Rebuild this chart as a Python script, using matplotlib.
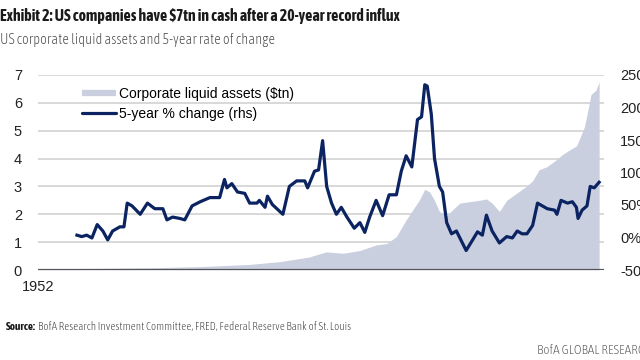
import matplotlib
matplotlib.use("Agg")
import matplotlib.pyplot as plt
from matplotlib.lines import Line2D

plt.rcParams['font.family'] = ['Liberation Sans', 'DejaVu Sans']

# corporate liquid assets ($tn)
asset_years = [1952.0, 1959.6, 1965.8, 1972.0, 1978.1, 1981.8, 1983.6, 1985.5, 1986.7, 1987.6,
               1989.6, 1991.7, 1993.7, 1995.0, 1996.2, 1997.4, 1998.2, 1999.0, 1999.7, 2000.3,
               2000.9, 2001.5, 2002.4, 2003.1, 2004.0, 2005.2, 2006.4, 2007.3, 2008.0, 2008.9,
               2009.8, 2011.0, 2012.2, 2013.0, 2013.8, 2014.7, 2015.9, 2016.7, 2017.5, 2018.4,
               2018.7, 2019.4, 2020.0, 2020.2, 2020.8, 2021.2]
assets = [0.04, 0.06, 0.08, 0.12, 0.2, 0.3, 0.38, 0.47, 0.58, 0.65,
          0.6, 0.7, 0.9, 0.95, 1.2, 1.8, 2.15, 2.5, 2.9, 2.8,
          2.5, 2.1, 1.95, 2.15, 2.4, 2.45, 2.5, 2.55, 2.4, 2.1,
          2.5, 2.75, 3.0, 3.2, 3.6, 3.7, 3.95, 4.15, 4.3, 4.45,
          4.65, 5.15, 6.0, 6.3, 6.45, 6.75]

# 5-year % change (rhs)
chg_years = [1956.8, 1957.4, 1958.0, 1958.65, 1959.3, 1960.0, 1960.6, 1961.2, 1962.1, 1962.6,
             1963.0, 1963.6, 1964.6, 1965.5, 1966.4, 1967.4, 1967.9, 1968.6, 1969.5, 1970.1,
             1971.0, 1972.0, 1973.2, 1974.4, 1975.0, 1975.3, 1975.9, 1976.6, 1977.5, 1978.1,
             1979.0, 1979.3, 1980.0, 1980.3, 1980.9, 1982.2, 1983.0, 1983.9, 1984.9, 1985.25,
             1986.1, 1986.6, 1987.1, 1987.6, 1988.2, 1988.8, 1989.4, 1990.1, 1991.0, 1991.7,
             1992.3, 1992.9, 1993.7, 1994.5, 1995.3, 1996.2, 1996.8, 1997.4, 1998.1, 1998.8,
             1999.3, 1999.7, 2000.0, 2000.5, 2000.9, 2001.5, 2001.9, 2002.4, 2003.0, 2003.6,
             2004.8, 2005.6, 2006.2, 2006.8, 2007.3, 2008.0, 2008.9, 2009.8, 2010.5, 2011.1,
             2011.7, 2012.3, 2013.0, 2013.6, 2014.2, 2014.8, 2015.7, 2016.0, 2016.5, 2017.3,
             2017.9, 2018.4, 2018.6, 2019.1, 2019.7, 2020.1, 2020.6, 2021.2]
change = [3.6, 1.4, 3.6, -0.7, 19.9, 10, -3.7, 10, 16.4, 16.4,
          52.9, 48.6, 35.7, 52.9, 44.3, 44.3, 27.1, 31.4, 29.3, 27.1,
          48.6, 55, 61.4, 61.4, 89.3, 76.4, 82.9, 70, 67.9, 52.9,
          52.9, 57.1, 46.4, 63.6, 50.7, 35.7, 78.6, 87.1, 87.1, 76.4,
          102, 104, 149, 78.6, 52.9, 35.7, 46.4, 31.4, 14.3, 22.9,
          7.9, 31.4, 57.1, 33.6, 65.7, 65.7, 102, 125.7, 108.6, 181.4,
          185.7, 235, 232.9, 190, 121.4, 78.6, 70, 22.9, 5.7, 10,
          -20, -3.7, 8.7, 3.6, 34.4, 10, -8.4, 1.4, -0.7, 10,
          5.7, 5.7, 18.6, 52.9, 48.6, 44.3, 42.1, 35.7, 57.1, 52.9,
          55, 46.4, 29.3, 42.1, 48.6, 78.6, 76.4, 85]

left_ticks = [0, 1, 2, 3, 4, 5, 6, 7]
right_ticks = [-50, 0, 50, 100, 150, 200, 250]
right_labels = ['-50%', '0%', '50%', '100%', '150%', '200%', '250%']

area_col = '#c9cfdf'
line_col = '#0b2461'

fig = plt.figure(figsize=(6.4, 3.6), dpi=100)
ax = fig.add_axes([38/640, 1-270/360, (604-38)/640, 195/360])
ax2 = ax.twinx()

ax.fill_between(asset_years, assets, 0, color=area_col, lw=0, zorder=2)
ax.set_ylim(0, 7)
ax.set_yticks(left_ticks)
ax.set_xlim(1952, 2021.8)
ax.set_xticks([1952])
ax.set_xticklabels(['1952'])
for t in left_ticks[1:]:
    ax.axhline(t, color='#d6d6d6', lw=1.3, zorder=1)
ax.axhline(0, color='#555555', lw=1.6, zorder=3)

ax2.plot(chg_years, change, color=line_col, lw=2.3, zorder=4, solid_joinstyle='round')
ax2.set_ylim(-50, 250)
ax2.set_yticks(right_ticks)
ax2.set_yticklabels(right_labels)

for a in (ax, ax2):
    for s in a.spines.values():
        s.set_visible(False)
    a.tick_params(length=0, labelsize=10.5, colors='#222222')
ax.tick_params(axis='y', pad=11.5)
ax2.tick_params(axis='y', pad=11.5)
ax.tick_params(axis='x', pad=7)

handles = [Line2D([0], [0], color=area_col, lw=4.5, solid_capstyle='butt'),
           Line2D([0], [0], color=line_col, lw=2.3, solid_capstyle='round')]
ax.legend(handles, ['Corporate liquid assets ($tn)', '5-year % change (rhs)'],
          loc='upper left', bbox_to_anchor=(0.078, 0.94), frameon=False,
          fontsize=10, handlelength=2.45, handletextpad=0.2,
          labelspacing=0.45, borderaxespad=0, borderpad=0)

cond = ['Asap Condensed', 'DejaVu Sans']
fig.text(0.0, 0.955, 'Exhibit 2: US companies have $7tn in cash after a 20-year record influx',
         fontsize=11.3, fontweight='bold', family=cond, color='#1a1a1a', va='center')
fig.text(0.0, 0.889, 'US corporate liquid assets and 5-year rate of change',
         fontsize=10.5, fontweight='light', family=cond, color='#444444', va='center')
src = fig.text(0.009, 0.092, 'Source:', fontsize=8, fontweight='bold', family=cond,
               color='#1a1a1a', va='center')
fig.canvas.draw()
w = src.get_window_extent().width / 640
fig.text(0.009 + w + 0.004, 0.092,
         'BofA Research Investment Committee, FRED, Federal Reserve Bank of St. Louis',
         fontsize=8, fontweight='light', family=cond, color='#333333', va='center')
fig.text(0.839, 0.027, 'BofA GLOBAL RESEARCH', fontsize=9.5, fontweight='light', family=cond,
         color='#555555', va='center')

fig.savefig('out.png', dpi=100)
